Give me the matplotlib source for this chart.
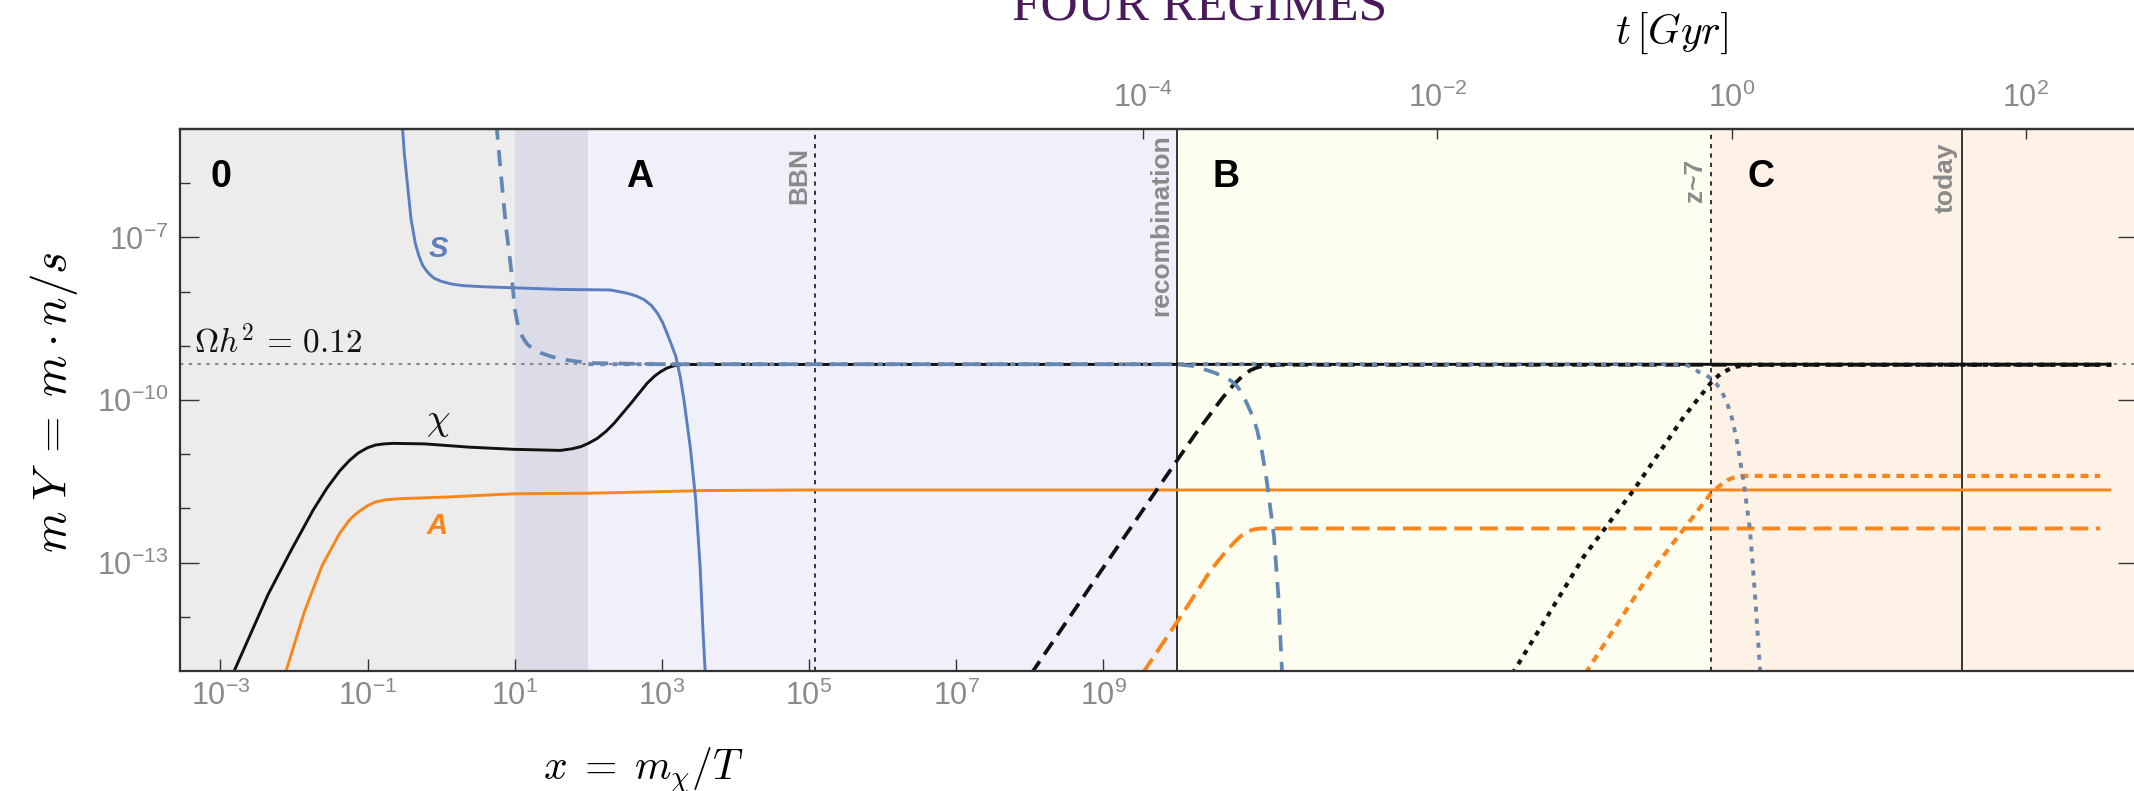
import matplotlib
matplotlib.use("Agg")
import matplotlib.pyplot as plt
import numpy as np
from matplotlib.ticker import FixedFormatter, FixedLocator, NullLocator

# every curve is stored as (log10 x, log10 mY) pairs, x = m_chi / T
s_solid = [(-0.53, -4.9), (-0.50, -5.47), (-0.45, -6.13), (-0.41, -6.66), (-0.35, -7.12),
           (-0.30, -7.35), (-0.25, -7.52), (-0.18, -7.65), (-0.10, -7.75), (0.0, -7.81),
           (0.14, -7.86), (0.30, -7.89), (0.56, -7.91), (0.99, -7.93), (1.62, -7.96),
           (2.30, -7.97), (2.53, -8.03), (2.65, -8.08), (2.76, -8.15), (2.86, -8.26),
           (2.94, -8.40), (3.01, -8.57), (3.07, -8.77), (3.13, -8.98), (3.19, -9.20),
           (3.25, -9.58), (3.30, -10.0), (3.39, -10.92), (3.46, -11.85), (3.52, -13.08),
           (3.56, -14.3), (3.59, -15.05)]
chi_solid = [(-2.83, -15.05), (-2.35, -13.58), (-2.05, -12.80), (-1.74, -12.03), (-1.55, -11.62),
             (-1.38, -11.31), (-1.25, -11.12), (-1.13, -10.98), (-1.0, -10.88), (-0.89, -10.83),
             (-0.78, -10.81), (-0.65, -10.80), (-0.22, -10.81), (0.38, -10.87), (0.99, -10.91),
             (1.62, -10.93), (1.78, -10.90), (1.90, -10.86), (2.0, -10.80), (2.12, -10.71),
             (2.24, -10.58), (2.35, -10.43), (2.58, -10.06), (2.80, -9.69), (2.90, -9.56),
             (2.98, -9.48), (3.07, -9.41), (3.16, -9.37), (3.28, -9.345), (22.7, -9.34)]
a_solid = [(-2.12, -15.05), (-1.86, -13.91), (-1.62, -13.06), (-1.38, -12.46), (-1.31, -12.33),
           (-1.25, -12.22), (-1.19, -12.14), (-1.13, -12.07), (-1.0, -11.95), (-0.89, -11.88),
           (-0.75, -11.84), (-0.55, -11.82), (0.08, -11.79), (0.99, -11.73), (2.0, -11.72),
           (3.0, -11.69), (3.6, -11.67), (5.0, -11.66), (22.7, -11.66)]

s_dashed = [(0.75, -4.9), (0.81, -5.80), (0.88, -6.79), (0.95, -7.58), (1.0, -8.31),
            (1.03, -8.53), (1.06, -8.70), (1.11, -8.85), (1.17, -8.97), (1.25, -9.06),
            (1.35, -9.13), (1.5, -9.20), (1.65, -9.25), (1.85, -9.29), (2.08, -9.32),
            (3.0, -9.34), (10.0, -9.34), (10.2, -9.37), (10.34, -9.42), (10.5, -9.49),
            (10.64, -9.57), (10.74, -9.65), (10.82, -9.75), (10.89, -9.88), (10.95, -10.06),
            (11.02, -10.27), (11.09, -10.55), (11.16, -10.98), (11.22, -11.48), (11.32, -12.52),
            (11.38, -13.63), (11.43, -15.05)]
chi_dashed = [(8.02, -15.05), (8.96, -13.17), (10.02, -11.08), (10.25, -10.63), (10.46, -10.25),
              (10.62, -9.96), (10.77, -9.72), (10.89, -9.56), (11.0, -9.45), (11.09, -9.40),
              (11.18, -9.37), (11.4, -9.35), (22.7, -9.35)]
a_dashed = [(9.53, -15.05), (10.02, -14.06), (10.46, -13.14), (10.62, -12.87), (10.77, -12.64),
            (10.86, -12.52), (10.95, -12.43), (11.04, -12.39), (11.14, -12.37), (22.55, -12.37)]

s_dotted = [(2.0, -9.34), (16.89, -9.34), (17.0, -9.39), (17.09, -9.48), (17.19, -9.54),
            (17.29, -9.63), (17.39, -9.80), (17.48, -10.06), (17.55, -10.36), (17.61, -10.74),
            (17.70, -11.48), (17.79, -12.40), (17.86, -13.63), (17.93, -15.05)]
chi_dotted = [(14.56, -15.05), (15.53, -12.89), (16.21, -11.66), (16.89, -10.31), (17.29, -9.63),
              (17.40, -9.51), (17.48, -9.45), (17.57, -9.39), (17.8, -9.35), (22.7, -9.35)]
a_dotted = [(15.55, -15.05), (16.43, -13.2), (17.26, -11.72), (17.38, -11.58), (17.48, -11.48),
            (17.57, -11.43), (17.66, -11.40), (22.55, -11.40)]

omega_log = -9.34           # Omega h^2 = 0.12
x_bbn = 1.2e5
x_recomb = 1e10
x_z7 = 10 ** 17.26
x_today = 10 ** 20.67
band_lo, band_hi = 1e1, 1e2
t_shift = -8.77             # log10 t[Gyr] = 0.5 log10 x + t_shift

x_ticks = [1e-3, 1e-1, 1e1, 1e3, 1e5, 1e7, 1e9]
y_major = [1e-7, 1e-10, 1e-13]
y_minor = [1e-6, 1e-8, 1e-9, 1e-11, 1e-12, 1e-14]
t_ticks = [1e-4, 1e-2, 1e0, 1e2]

BLACK = "#111111"
ORANGE = "#f8861a"
BLUE = "#5a7ec0"
BLUE_DASH = "#6287b5"
BLUE_DOT = "#6e86aa"
GRAY_TXT = "#8a8a8a"
FRAME = "#333333"

plt.rcParams.update({
    "font.family": "Liberation Sans",
    "mathtext.fontset": "custom",
    "mathtext.rm": "Liberation Sans",
    "mathtext.it": "Liberation Sans:italic",
    "mathtext.bf": "Liberation Sans:bold",
})


def sci(v):
    return r"$\mathregular{10^{%d}}$" % int(round(np.log10(v)))


def draw(ax, pts, color, lw, ls="-", z=3):
    lx, ly = zip(*pts)
    ax.plot(10 ** np.array(lx), 10 ** np.array(ly), color=color, lw=lw, ls=ls, zorder=z,
            solid_capstyle="butt", solid_joinstyle="round")


fig = plt.figure(figsize=(21.34, 7.91), dpi=100)
ax = fig.add_axes([180 / 2134, 1 - 671 / 791, 1957 / 2134, 542 / 791])
ax.set_xscale("log")
ax.set_yscale("log")
ax.set_xlim(10 ** -3.55, 10 ** 23.05)
ax.set_ylim(1e-15, 1e-5)

# regime backgrounds
xmin, xmax = ax.get_xlim()
ax.axvspan(xmin, band_lo, color="#ececec", lw=0, zorder=0)
ax.axvspan(band_lo, band_hi, color="#dcdce8", lw=0, zorder=0)
ax.axvspan(band_hi, x_recomb, color="#f0f0fb", lw=0, zorder=0)
ax.axvspan(x_recomb, x_z7, color="#fefef0", lw=0, zorder=0)
ax.axvspan(x_z7, xmax, color="#fef2e7", lw=0, zorder=0)

ax.axhline(10 ** omega_log, color="#888888", lw=1.5, ls=(0, (1.6, 2.6)), zorder=1)

ax.axvline(x_bbn, color=FRAME, lw=1.4, ls=(0, (2.2, 2.6)), zorder=1.5)
ax.axvline(x_recomb, color=FRAME, lw=1.4, zorder=1.5)
ax.axvline(x_z7, color=FRAME, lw=1.4, ls=(0, (2.2, 2.6)), zorder=1.5)
ax.axvline(x_today, color=FRAME, lw=1.4, zorder=1.5)

# curves
draw(ax, a_solid, ORANGE, 2.1)
draw(ax, a_dashed, ORANGE, 2.8, (0, (4.6, 2.0)))
draw(ax, a_dotted, ORANGE, 3.0, (0, (1.9, 1.5)))
draw(ax, chi_solid, BLACK, 2.1)
draw(ax, chi_dashed, BLACK, 2.7, (0, (4.0, 2.2)))
draw(ax, chi_dotted, BLACK, 3.0, (0, (1.2, 1.5)))
draw(ax, s_solid, BLUE, 2.1)
draw(ax, s_dotted, BLUE_DOT, 2.8, (0, (1.3, 1.8)), z=3.2)
draw(ax, s_dashed, BLUE_DASH, 2.7, (0, (4.3, 2.8)), z=3.1)

# curve labels
ax.text(10 ** -0.04, 10 ** -7.22, "S", color=BLUE, fontsize=21, fontweight="bold",
        fontstyle="italic", ha="center", va="center", zorder=4)
ax.text(10 ** -0.06, 10 ** -12.32, "A", color=ORANGE, fontsize=21, fontweight="bold",
        fontstyle="italic", ha="center", va="center", zorder=4)
ax.text(10 ** -0.04, 10 ** -10.39, r"$\chi$", color=BLACK, fontsize=27, math_fontfamily="cm",
        ha="center", va="center", zorder=4)
ax.text(10 ** -3.36, 10 ** -9.14, r"$\Omega h^2\,=\,0.12$", color=BLACK, fontsize=24,
        math_fontfamily="cm", ha="left", va="baseline", zorder=4)

# regime letters
for lx, lab in [(-3.0, "0"), (2.70, "A"), (10.67, "B"), (17.94, "C")]:
    ax.text(10 ** lx, 10 ** -5.89, lab, fontsize=27, fontweight="bold", color="black",
            ha="center", va="center", zorder=4)

# event labels along the vertical lines
for xv, y_top, lab in [(x_bbn, -5.33, "BBN"), (x_recomb, -5.09, "recombination"),
                       (x_z7, -5.55, "z~7"), (x_today, -5.26, "today")]:
    ax.text(xv / 1.13, 10 ** y_top, lab, rotation=90, fontsize=19, fontweight="bold",
            color=GRAY_TXT, ha="right", va="top", zorder=4)

# axes styling
for sp in ax.spines.values():
    sp.set_color(FRAME)
    sp.set_linewidth(1.6)
    sp.set_zorder(5)

ax.xaxis.set_major_locator(FixedLocator(x_ticks))
ax.xaxis.set_major_formatter(FixedFormatter([sci(v) for v in x_ticks]))
ax.xaxis.set_minor_locator(NullLocator())
ax.yaxis.set_major_locator(FixedLocator(y_major))
ax.yaxis.set_major_formatter(FixedFormatter([sci(v) for v in y_major]))
ax.yaxis.set_minor_locator(FixedLocator(y_minor))
ax.yaxis.set_minor_formatter(FixedFormatter([""] * len(y_minor)))

ax.tick_params(axis="x", which="major", direction="in", length=8.6, width=1.0, color=FRAME,
               labelsize=22, labelcolor=GRAY_TXT, pad=7, top=False)
ax.tick_params(axis="y", which="major", direction="in", length=13.5, width=1.0, color=FRAME,
               labelsize=22, labelcolor=GRAY_TXT, pad=8.5, right=True)
ax.tick_params(axis="y", which="minor", direction="in", length=7, width=1.0, color=FRAME,
               right=False)


def x_to_t(x):
    return 10 ** t_shift * np.sqrt(np.clip(x, 1e-300, None))


def t_to_x(t):
    return (np.clip(t, 1e-300, None) / 10 ** t_shift) ** 2


top = ax.secondary_xaxis("top", functions=(x_to_t, t_to_x))
top.xaxis.set_major_locator(FixedLocator(t_ticks))
top.xaxis.set_major_formatter(FixedFormatter([sci(v) for v in t_ticks]))
top.xaxis.set_minor_locator(NullLocator())
top.tick_params(axis="x", which="major", direction="in", length=7, width=1.0, color=FRAME,
                labelsize=22, labelcolor=GRAY_TXT, pad=11)
top.spines["top"].set_color(FRAME)
top.spines["top"].set_linewidth(1.6)

# axis titles
fig.text(54 / 2134, 1 - 402 / 791, r"$m\;Y\;=\;m\cdot n/s$", rotation=90, fontsize=34,
         math_fontfamily="cm", ha="center", va="center")
fig.text(643 / 2134, 1 - 770 / 791, r"$x\;=\;m_\chi/T$", fontsize=30, math_fontfamily="cm",
         ha="center", va="center")
fig.text(1672 / 2134, 1 - 33 / 791, r"$t\,[Gyr]$", fontsize=30, math_fontfamily="cm",
         ha="center", va="center")
fig.text(1200 / 2134, 1 - 19 / 791, "FOUR REGIMES", family="Liberation Serif", fontsize=37,
         color="#4a1a5c", ha="center", va="baseline")

fig.savefig("out.png", dpi=100)
